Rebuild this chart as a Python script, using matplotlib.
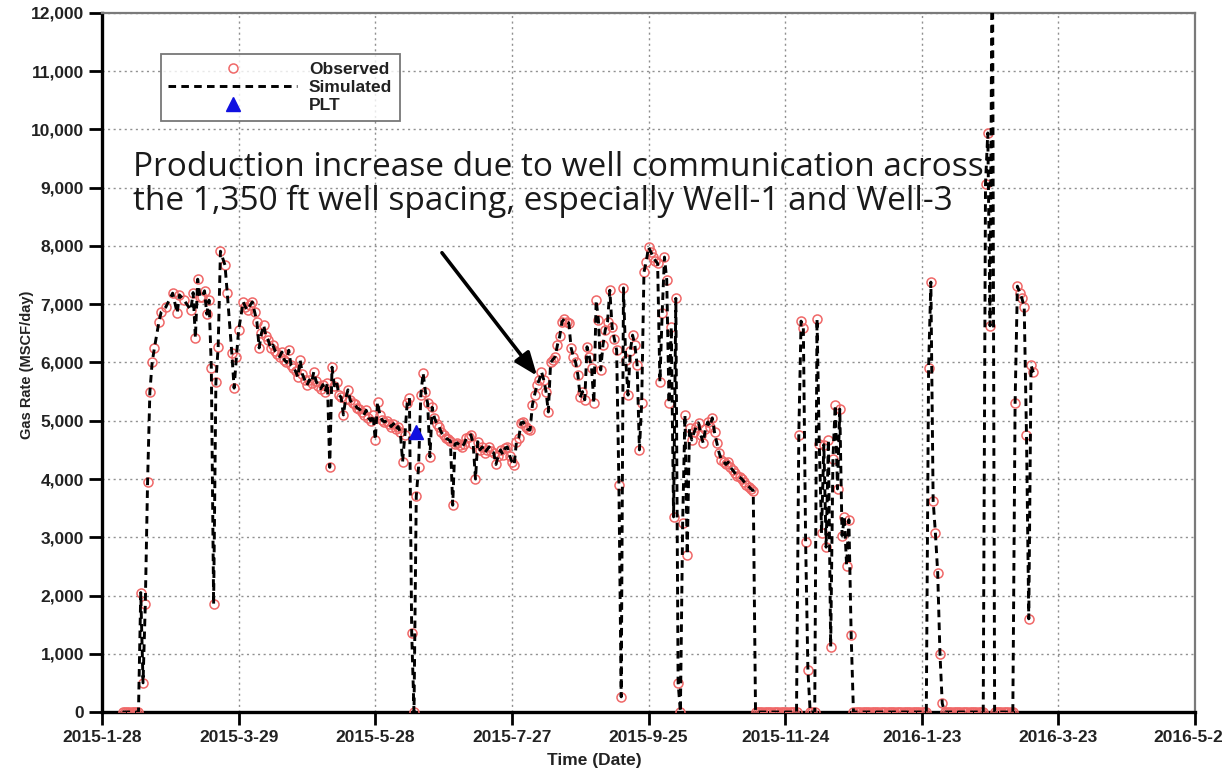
import matplotlib
matplotlib.use("Agg")
import matplotlib.pyplot as plt
from matplotlib.ticker import FuncFormatter, MultipleLocator
import pandas as pd

start_date = "2015-01-28"
# days since 2015-01-28 and observed gas rate (MSCF/day)
obs_days = (
    list(range(9, 17)) +
    [17, 18, 19, 20, 21, 22, 23, 25, 26, 28, 31, 33, 34, 36, 39, 40, 41, 42, 43, 44, 45, 46, 47,
     48, 49, 50, 51, 52, 54, 55, 57, 58, 59, 60] +
    list(range(62, 137)) + list(range(137, 288)) + list(range(288, 306)) +
    list(range(306, 330)) + list(range(330, 363)) + list(range(363, 370)) +
    list(range(370, 388)) + [388, 389, 390, 391] + list(range(392, 401)) +
    list(range(401, 410))
)
obs_vals = (
    [0] * 8 +
    [2050, 500, 1850, 3950, 5490, 6000, 6250, 6700, 6870, 6950, 7190, 6850, 7160, 7070, 6900, 7200,
     6420, 7430, 7130, 7130, 7230, 6830, 7070, 5900, 1850, 5660, 6270, 7910, 7670, 7190, 6160,
     5560, 6090, 6560] +
    [7040, 6950, 6900, 6980, 7040, 6870, 6700, 6250, 6500, 6640, 6450, 6380, 6250, 6300, 6200,
     6150, 6100, 6180, 6050, 6000, 6210, 5950, 5900, 5850, 5750, 6040, 5800, 5700, 5610, 5700,
     5650, 5840, 5680, 5600, 5550, 5620, 5500, 5650, 4200, 5920, 5600, 5670, 5450, 5400, 5100,
     5380, 5530, 5350, 5300, 5280, 5220, 5200, 5150, 5100, 5180, 5050, 5000, 5100, 4670, 5320,
     5100, 5010, 4980, 5000, 4950, 4900, 4950, 4850, 4900, 4800, 4300, 4750, 5300, 5390, 1360] +
    [0, 3700, 4200, 5440, 5820, 5500, 5300, 4380, 5230, 5050, 4950, 4900, 4800, 4750, 4700, 4680,
     4650, 3550, 4600, 4620, 4580, 4550, 4600, 4700, 4720, 4760, 4600, 4000, 4640, 4500, 4550,
     4450, 4500, 4550, 4480, 4450, 4250, 4400, 4500, 4420, 4530, 4550, 4400, 4300, 4240, 4640,
     4700, 4960, 4980, 4900, 4850, 4840, 5270, 5450, 5610, 5700, 5840, 5700, 5500, 5150, 6000,
     6050, 6100, 6300, 6450, 6700, 6750, 6700, 6680, 6250, 6100, 6000, 5780, 5400, 5500, 5360,
     6270, 6100, 5900, 5300, 7070, 6730, 5870, 6300, 6560, 6700, 7240, 6610, 6400, 6210, 3900,
     260, 7280, 6040, 5440, 6200, 6470, 6300, 5960, 4500, 5300, 7550, 7730, 7980, 7900, 7810,
     7750, 7700, 5670, 6850, 7810, 7420, 5300, 6610, 3350, 7100, 500, 0, 3250, 5100, 2700, 4870,
     4670, 4800, 4900, 4960, 4750, 4620, 4850, 4980, 4900, 5050, 4800, 4620, 4450, 4330, 4300,
     4250, 4290, 4200, 4150, 4100, 4050, 4030, 4000, 3950, 3900, 3870, 3830, 3800, 0] +
    [0] * 18 +
    [4750, 6710, 6590, 2920, 720, 0, 0, 0, 6750, 4600, 3070, 4590, 2830, 4670, 1120, 4350, 5270,
     3830, 5200, 3030, 3350, 2510, 3300, 1320] +
    [0] * 33 +
    [5900, 7380, 3630, 3070, 2390, 1000, 150] +
    [0] * 18 +
    [9070, 9940, 6630, 14000] +
    [0] * 9 +
    [5310, 7310, 7200, 7100, 6950, 4750, 1600, 5950, 5830]
)
sim_days = obs_days
sim_vals = obs_vals
plt_days = [138]
plt_vals = [4800]

x_ticks = ["2015-1-28", "2015-3-29", "2015-5-28", "2015-7-27", "2015-9-25",
           "2015-11-24", "2016-1-23", "2016-3-23", "2016-5-22"]
x_tick_labels = ["2015-1-28", "2015-3-29", "2015-5-28", "2015-7-27", "2015-9-25",
                 "2015-11-24", "2016-1-23", "2016-3-23", "2016-5-2"]

annotation = ("Production increase due to well communication across\n"
              "the 1,350 ft well spacing, especially Well-1 and Well-3")

base = pd.Timestamp(start_date)
obs_t = [base + pd.Timedelta(days=d) for d in obs_days]
sim_t = [base + pd.Timedelta(days=d) for d in sim_days]
plt_t = [base + pd.Timedelta(days=d) for d in plt_days]
tick_t = [pd.Timestamp(t) for t in x_ticks]

plt.rcParams['font.family'] = ['Liberation Sans', 'DejaVu Sans']
fig = plt.figure(figsize=(12.25, 7.72), dpi=100)
ax = fig.add_axes([0.0833, 0.0777, 0.8922, 0.9055])

ax.plot(obs_t, obs_vals, linestyle='none', marker='o', markersize=6.5, markerfacecolor='none',
        markeredgecolor='#f06868', markeredgewidth=1.1, label='Observed', zorder=3)
ax.plot(sim_t, sim_vals, color='black', linestyle=(0, (2.6, 1.8)), linewidth=2.1,
        label='Simulated', zorder=4)
ax.plot(plt_t, plt_vals, linestyle='none', marker='^', markersize=9.5, color='#1010e0',
        label='PLT', zorder=5)

tick_len, tick_pad, tick_fs = 9.5, 3.5, 12.5
ax.set_xlim(tick_t[0], tick_t[-1])
ax.set_ylim(0, 12000)
ax.set_xticks(tick_t)
# the last label sits against the right edge of the picture; drawn separately below
ax.set_xticklabels(x_tick_labels[:-1] + [""], fontsize=tick_fs, fontweight='bold',
                   color='#222222')
ax.annotate(x_tick_labels[-1], xy=(1.0, 0.0), xycoords='axes fraction',
            xytext=(20.5, -(tick_len + tick_pad)), textcoords='offset points',
            ha='right', va='top', fontsize=tick_fs, fontweight='bold', color='#222222',
            annotation_clip=False)

ax.yaxis.set_major_locator(MultipleLocator(1000))
ax.yaxis.set_major_formatter(FuncFormatter(lambda v, p: f"{int(v):,}"))
for lab in ax.get_yticklabels():
    lab.set_fontweight('bold')
    lab.set_fontsize(tick_fs)
    lab.set_color('#222222')
ax.tick_params(axis='both', direction='out', length=tick_len, width=2.0, color='black',
               pad=tick_pad)
ax.grid(True, linestyle=(0, (1.5, 2.5)), color='#909090', linewidth=1.0)

for side in ['left', 'bottom']:
    ax.spines[side].set_linewidth(2.4)
    ax.spines[side].set_color('black')
for side in ['top', 'right']:
    ax.spines[side].set_linewidth(1.6)
    ax.spines[side].set_color('#7a7a7a')

ax.set_ylabel('Gas Rate (MSCF/day)', fontsize=10.5, fontweight='bold', color='#222222')
ax.yaxis.set_label_coords(-0.062, 0.496)
ax.set_xlabel('Time (Date)', fontsize=12.5, fontweight='bold', color='#222222')
ax.xaxis.set_label_coords(0.45, -0.059)

leg = ax.legend(loc='upper left', bbox_to_anchor=(0.054, 0.941), borderaxespad=0,
                handlelength=7.4, fontsize=12.5, frameon=True, fancybox=False,
                edgecolor='#555555', borderpad=0.42, labelspacing=0.18, handletextpad=0.7)
for t in leg.get_texts():
    t.set_fontweight('bold')
    t.set_color('#222222')
leg.get_frame().set_linewidth(1.3)

ax.text(0.028, 0.803, annotation,
        transform=ax.transAxes, fontsize=24, family=['Open Sans', 'DejaVu Sans'],
        color='#1a1a1a', va='top', ha='left', linespacing=1.06)

ax.annotate("", xy=(0.398, 0.481), xytext=(0.311, 0.657), xycoords='axes fraction',
            arrowprops=dict(arrowstyle='-|>,head_length=1.4,head_width=0.55', color='black',
                            lw=2.6, shrinkA=0, shrinkB=0))

fig.savefig('out.png', dpi=100)
